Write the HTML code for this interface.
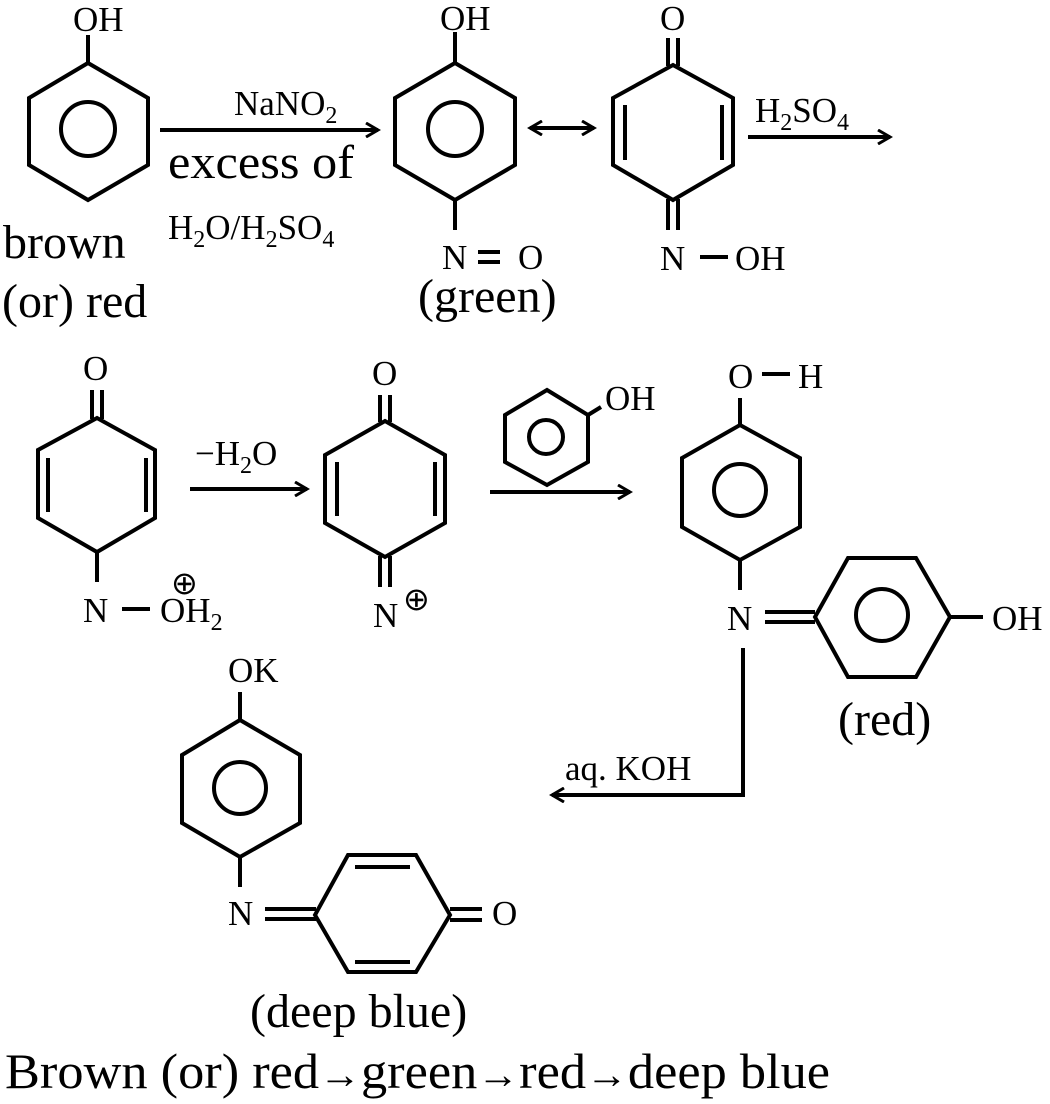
<!DOCTYPE html>
<html><head><style>html,body{margin:0;padding:0;background:#fff}svg{display:block}text{font-family:"Liberation Serif",serif;fill:#000}</style></head>
<body>
<svg width="1050" height="1104" viewBox="0 0 1050 1104" xmlns="http://www.w3.org/2000/svg">
<defs><marker id="ah" markerWidth="16" markerHeight="16" refX="13" refY="8" orient="auto" markerUnits="userSpaceOnUse"><path d="M1,1 L13,8 L1,15" fill="none" stroke="#000" stroke-width="3"/></marker></defs>
<g stroke="#000" stroke-width="4" fill="none" stroke-linejoin="miter">
<polygon points="88,63 148,98 148,165 88,200 29,165 29,98"/><circle cx="88" cy="129" r="27"/><line x1="88" y1="35" x2="88" y2="63"/>
<line x1="160" y1="130" x2="378" y2="130" marker-end="url(#ah)"/>
<polygon points="455,63 515,98 515,165 455,200 395,165 395,98"/><circle cx="455" cy="129" r="27"/><line x1="455" y1="32" x2="455" y2="63"/><line x1="455" y1="200" x2="455" y2="230"/>
<line x1="478" y1="252" x2="500" y2="252"/><line x1="478" y1="262" x2="500" y2="262"/>
<line x1="530" y1="128" x2="594" y2="128" marker-end="url(#ah)"/><line x1="594" y1="128" x2="530" y2="128" marker-end="url(#ah)"/>
<polygon points="673,65 733,98 733,165 673,200 613,165 613,98"/><line x1="625" y1="105" x2="625" y2="160"/><line x1="722" y1="105" x2="722" y2="160"/>
<line x1="668" y1="38" x2="668" y2="66"/><line x1="678" y1="38" x2="678" y2="66"/>
<line x1="668" y1="199" x2="668" y2="230"/><line x1="678" y1="199" x2="678" y2="230"/>
<line x1="700" y1="257" x2="728" y2="257"/>
<line x1="748" y1="137" x2="890" y2="137" marker-end="url(#ah)"/>
<polygon points="97,418 155,450 155,518 97,552 38,518 38,450"/><line x1="48" y1="458" x2="48" y2="512"/><line x1="146" y1="458" x2="146" y2="512"/>
<line x1="92" y1="390" x2="92" y2="419"/><line x1="102" y1="390" x2="102" y2="419"/><line x1="97" y1="552" x2="97" y2="582"/>
<line x1="122" y1="609" x2="150" y2="609"/>
<line x1="190" y1="489" x2="307" y2="489" marker-end="url(#ah)"/>
<polygon points="385,421 445,455 445,523 385,557 325,523 325,455"/><line x1="337" y1="462" x2="337" y2="516"/><line x1="435" y1="462" x2="435" y2="516"/>
<line x1="380" y1="395" x2="380" y2="422"/><line x1="390" y1="395" x2="390" y2="422"/><line x1="380" y1="556" x2="380" y2="587"/><line x1="390" y1="556" x2="390" y2="587"/>
<polygon points="547,390 588,415 588,462 547,485 505,462 505,415"/><circle cx="546" cy="437" r="17"/><line x1="588" y1="415" x2="601" y2="407"/>
<line x1="490" y1="492" x2="630" y2="492" marker-end="url(#ah)"/>
<polygon points="740,425 800,458 800,527 740,560 682,527 682,458"/><circle cx="740" cy="490" r="26"/><line x1="740" y1="398" x2="740" y2="425"/><line x1="762" y1="374" x2="790" y2="374"/><line x1="740" y1="560" x2="740" y2="590"/>
<line x1="765" y1="612" x2="815" y2="612"/><line x1="765" y1="622" x2="815" y2="622"/>
<polygon points="815,617 848,558 916,558 950,617 916,677 848,677"/><circle cx="882" cy="615" r="26"/><line x1="950" y1="617" x2="983" y2="617"/>
<polyline points="743,648 743,795 552,795" marker-end="url(#ah)"/>
<polygon points="240,720 300,755 300,823 240,857 182,823 182,755"/><circle cx="240" cy="788" r="26"/><line x1="240" y1="692" x2="240" y2="720"/><line x1="240" y1="857" x2="240" y2="887"/>
<line x1="265" y1="909" x2="316" y2="909"/><line x1="265" y1="919" x2="316" y2="919"/>
<polygon points="315,915 348,855 416,855 450,915 416,972 348,972"/><line x1="355" y1="867" x2="410" y2="867"/><line x1="355" y1="962" x2="410" y2="962"/>
<line x1="450" y1="909" x2="482" y2="909"/><line x1="450" y1="920" x2="482" y2="920"/>
</g>
<g font-size="35">
<text x="73" y="31">OH</text>
<text x="234" y="115">NaNO<tspan font-size="24" dy="8">2</tspan></text>
<text x="168" y="178" font-size="48" textLength="186" lengthAdjust="spacingAndGlyphs">excess of</text>
<text x="168" y="239">H<tspan font-size="24" dy="8">2</tspan><tspan dy="-8">O/H</tspan><tspan font-size="24" dy="8">2</tspan><tspan dy="-8">SO</tspan><tspan font-size="24" dy="8">4</tspan></text>
<text x="3" y="258" font-size="48">brown</text>
<text x="2" y="317" font-size="48">(or) red</text>
<text x="440" y="30">OH</text>
<text x="442" y="269">N</text><text x="518" y="269">O</text>
<text x="418" y="312" font-size="48">(green)</text>
<text x="660" y="30">O</text>
<text x="660" y="270">N</text><text x="735" y="270">OH</text>
<text x="755" y="122">H<tspan font-size="24" dy="8">2</tspan><tspan dy="-8">SO</tspan><tspan font-size="24" dy="8">4</tspan></text>
<text x="83" y="380">O</text>
<text x="83" y="622">N</text><text x="160" y="622">OH<tspan font-size="24" dy="8">2</tspan></text>
<text x="171" y="594" font-size="32">⊕</text>
<text x="195" y="465">−H<tspan font-size="24" dy="8">2</tspan><tspan dy="-8">O</tspan></text>
<text x="372" y="385">O</text>
<text x="373" y="627">N</text><text x="403" y="610" font-size="32">⊕</text>
<text x="605" y="410">OH</text>
<text x="728" y="388">O</text><text x="798" y="388">H</text>
<text x="727" y="630">N</text><text x="992" y="630">OH</text>
<text x="838" y="735" font-size="48">(red)</text>
<text x="565" y="780">aq. KOH</text>
<text x="228" y="682">OK</text>
<text x="228" y="925">N</text><text x="492" y="925">O</text>
<text x="250" y="1027" font-size="48">(deep blue)</text>
<text x="5" y="1088" font-size="50" textLength="825" lengthAdjust="spacingAndGlyphs">Brown (or) red<tspan font-size="40">→</tspan>green<tspan font-size="40">→</tspan>red<tspan font-size="40">→</tspan>deep blue</text>
</g>
</svg>
</body></html>
